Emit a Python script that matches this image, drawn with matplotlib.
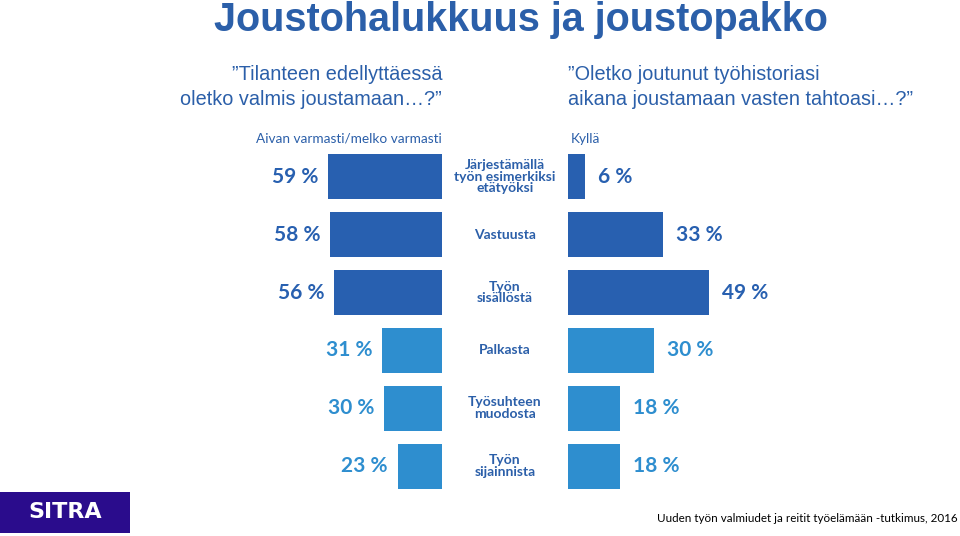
import matplotlib
matplotlib.use("Agg")
import matplotlib.pyplot as plt
from matplotlib.patches import Rectangle

categories = ["Järjestämällä\ntyön esimerkiksi\netätyöksi", "Vastuusta", "Työn\nsisällöstä",
              "Palkasta", "Työsuhteen\nmuodosta", "Työn\nsijainnista"]
ready_values = [59, 58, 56, 31, 30, 23]      # Aivan varmasti/melko varmasti
forced_values = [6, 33, 49, 30, 18, 18]      # Kyllä
dark_blue = "#2860B0"
light_blue = "#2E8ECF"
colors = [dark_blue] * 3 + [light_blue] * 3
text_blue = "#2B5FA9"

W, H = 960, 536
fig = plt.figure(figsize=(9.6, 5.36), dpi=100)
fig.patch.set_facecolor("white")

def fx(px):
    return px / W

def fy(py):
    return 1 - py / H

row_top, row_bot = 148, 495
axL = fig.add_axes([fx(250), fy(row_bot), fx(442) - fx(250), (row_bot - row_top) / H])
axR = fig.add_axes([fx(568), fy(row_bot), fx(855) - fx(568), (row_bot - row_top) / H])

ypos = list(range(len(categories)))
for ax in (axL, axR):
    ax.set_ylim(len(categories) - 0.5, -0.5)
    ax.axis("off")
axL.set_xlim(99.5, 0)
axR.set_xlim(0, 100)

axL.barh(ypos, ready_values, height=0.78, color=colors)
axR.barh(ypos, forced_values, height=0.78, color=colors)

for i, v in enumerate(ready_values):
    axL.text(v + 5, i, f"{v} %", ha="right", va="center", fontsize=15,
             fontweight="bold", family="Lato", color=colors[i])
for i, v in enumerate(forced_values):
    axR.text(v + 4.5, i, f"{v} %", ha="left", va="center", fontsize=15,
             fontweight="bold", family="Lato", color=colors[i])

for i, c in enumerate(categories):
    fig.text(fx(505), fy(row_top + (i + 0.5) * (row_bot - row_top) / 6), c,
             ha="center", va="center", fontsize=10, fontweight="bold", family="Lato",
             color=text_blue, linespacing=0.95)

fig.text(fx(442), fy(139), "Aivan varmasti/melko varmasti", ha="right", va="center",
         fontsize=9.8, family="Lato", color=text_blue)
fig.text(fx(571), fy(139), "Kyllä", ha="left", va="center",
         fontsize=9.8, family="Lato", color=text_blue)

fig.text(fx(521), fy(31), "Joustohalukkuus ja joustopakko", ha="center", va="baseline",
         fontsize=28.5, fontweight="bold", family="Liberation Sans", color=text_blue)
fig.text(fx(442), fy(87), "”Tilanteen edellyttäessä\noletko valmis joustamaan…?”",
         ha="right", va="center", fontsize=14.3, family="Liberation Sans",
         color=text_blue, linespacing=1.35)
fig.text(fx(568), fy(87), "”Oletko joutunut työhistoriasi\naikana joustamaan vasten tahtoasi…?”",
         ha="left", va="center", fontsize=14.3, family="Liberation Sans",
         color=text_blue, linespacing=1.35)

fig.patches.append(Rectangle((0, fy(533)), fx(130), fy(492) - fy(533),
                             transform=fig.transFigure, facecolor="#2A0C8C",
                             edgecolor="none"))
fig.text(fx(65), fy(512), "SITRA", ha="center", va="center", fontsize=16,
         fontweight="bold", family="DejaVu Sans", color="white")

fig.text(fx(958), fy(518), "Uuden työn valmiudet ja reitit työelämään -tutkimus, 2016",
         ha="right", va="center", fontsize=8.4, family="Lato", color="black")

fig.savefig("out.png", dpi=100, facecolor="white")
